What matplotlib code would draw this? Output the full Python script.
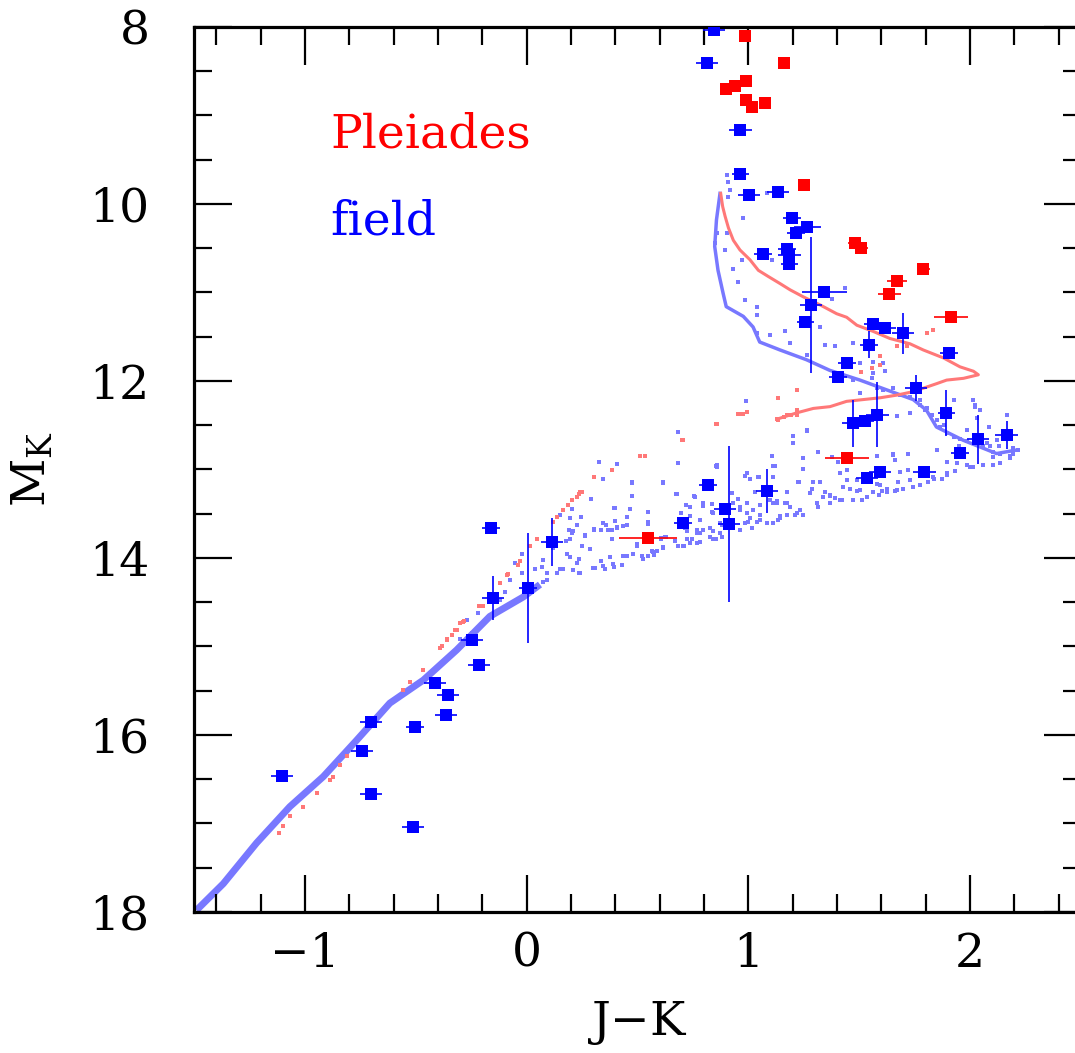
import numpy as np
import matplotlib
matplotlib.use("Agg")
import matplotlib.pyplot as plt
from matplotlib.ticker import MultipleLocator

# big symbols: field dwarfs (blue) and Pleiades members (red)
field_jk = [0.846, 0.815, 0.964, 0.964, 1.004, 1.135, 1.195, 1.266, 1.216, 1.067,
            1.175, 1.185, 1.185, 1.343, 1.284, 1.257, 1.563, 1.615, 1.696, 1.545,
            1.906, 1.446, 1.405, 1.754, 1.893, 1.582, 1.526, 1.473, 2.034, 2.164,
            1.954, 1.594, 1.535, 1.794, 0.818, 1.084, 0.894, 0.914, 0.706, -0.160,
            0.116, 0.007, -0.152, -0.248, -0.214, -0.414, -0.354, -0.364, -0.702, -0.504,
            -0.744, -1.102, -0.702, -0.513]
field_mk = [8.03, 8.41, 9.16, 9.66, 9.90, 9.87, 10.16, 10.26, 10.33, 10.57,
            10.51, 10.58, 10.68, 11.00, 11.14, 11.33, 11.36, 11.40, 11.46, 11.59,
            11.68, 11.80, 11.96, 12.08, 12.36, 12.38, 12.45, 12.48, 12.66, 12.61,
            12.81, 13.03, 13.10, 13.03, 13.18, 13.24, 13.45, 13.62, 13.60, 13.66,
            13.82, 14.34, 14.45, 14.93, 15.21, 15.41, 15.55, 15.77, 15.85, 15.91,
            16.18, 16.46, 16.67, 17.04]
field_mk_err = [0.05, 0.05, 0.06, 0.05, 0.05, 0.05, 0.05, 0.05, 0.05, 0.05,
                0.05, 0.05, 0.05, 0.06, 0.77, 0.05, 0.05, 0.05, 0.23, 0.15,
                0.05, 0.05, 0.05, 0.15, 0.26, 0.37, 0.05, 0.27, 0.28, 0.16,
                0.05, 0.05, 0.05, 0.05, 0.05, 0.25, 0.05, 0.88, 0.05, 0.05,
                0.27, 0.62, 0.25, 0.05, 0.06, 0.05, 0.05, 0.05, 0.05, 0.05,
                0.05, 0.05, 0.05, 0.05]
field_jk_err = [0.05, 0.05, 0.05, 0.04, 0.05, 0.05, 0.04, 0.06, 0.04, 0.04,
                0.04, 0.05, 0.04, 0.10, 0.05, 0.04, 0.04, 0.05, 0.05, 0.04,
                0.04, 0.04, 0.04, 0.05, 0.04, 0.05, 0.04, 0.05, 0.05, 0.05,
                0.04, 0.05, 0.05, 0.05, 0.04, 0.05, 0.05, 0.05, 0.04, 0.04,
                0.05, 0.04, 0.05, 0.05, 0.05, 0.05, 0.05, 0.05, 0.05, 0.04,
                0.05, 0.05, 0.05, 0.05]

pleiades_jk = [0.985, 1.162, 0.990, 0.900, 0.940, 0.987, 1.017, 1.075, 1.249,
               1.480, 1.508, 1.789, 1.669, 1.636, 1.914, 1.446, 0.546]
pleiades_mk = [8.10, 8.41, 8.61, 8.70, 8.67, 8.82, 8.91, 8.86, 9.79,
               10.44, 10.50, 10.73, 10.87, 11.02, 11.28, 12.87, 13.77]
pleiades_jk_err = [0.02, 0.02, 0.02, 0.02, 0.02, 0.02, 0.02, 0.02, 0.02,
                   0.03, 0.03, 0.03, 0.045, 0.05, 0.075, 0.10, 0.13]

# model sequences (dense parts, drawn as bands)
blue_diag_jk = [-1.489, -1.368, -1.218, -1.068, -0.917, -0.767, -0.617, -0.466, -0.316,
                -0.166, -0.015, 0.060]
blue_diag_mk = [17.98, 17.68, 17.22, 16.81, 16.47, 16.06, 15.64, 15.38, 15.04,
                14.66, 14.44, 14.30]

blue_upper_jk = [0.872, 0.856, 0.848, 0.863, 0.886, 0.900, 0.977, 1.021, 1.051, 1.143,
                 1.262, 1.367, 1.503, 1.623, 1.743, 1.803, 1.848, 1.969, 2.119, 2.210]
blue_upper_mk = [9.88, 10.18, 10.48, 10.75, 11.01, 11.16, 11.27, 11.39, 11.56, 11.65,
                 11.76, 11.88, 11.99, 12.10, 12.21, 12.33, 12.52, 12.67, 12.82, 12.78]

red_arc_jk = [0.875, 0.884, 0.895, 0.910, 0.932, 0.962, 1.007, 1.045, 1.090, 1.143,
              1.188, 1.248, 1.323, 1.398, 1.443, 1.489, 1.563, 1.638, 1.729, 1.789,
              1.880, 1.954, 2.015, 2.037, 1.970, 1.894, 1.849, 1.744, 1.669, 1.594,
              1.518, 1.443, 1.368, 1.293, 1.218, 1.143]
red_arc_mk = [9.88, 10.03, 10.14, 10.27, 10.41, 10.52, 10.63, 10.75, 10.82, 10.90,
              10.97, 11.05, 11.14, 11.24, 11.28, 11.37, 11.44, 11.52, 11.58, 11.65,
              11.74, 11.84, 11.89, 11.93, 11.97, 11.99, 12.03, 12.12, 12.16, 12.19,
              12.21, 12.23, 12.29, 12.31, 12.36, 12.42]

# model sequences (sparse parts, individual dots)
blue_dots_jk = [0.328, 0.406, 0.346, 0.476, 0.616, 0.684, 0.684, 0.476, 0.289, 0.395,
                0.466, 0.246, 0.225, 0.305, 0.360, 0.406, 0.451, 0.546, 0.549, 0.265,
                0.386, 0.496, 0.604, 0.627, 0.616, 0.674, 0.756, 0.797, 0.835, 0.855,
                0.986, 1.047, 1.107, 1.119, 1.031, 1.053, 1.129, 1.174, 1.226, 1.203,
                0.737, 0.714, 0.782, 0.827, 0.873, 0.963, 1.008, 1.084, 1.144, 1.211,
                0.873, 0.842, 0.737, 0.707, 0.571, 0.519, 0.436, 0.391, 0.346, 0.301,
                0.241, 0.225, 0.180, 0.195, 0.210, 0.248, 0.120, 0.165, 0.135, 0.090,
                0.075, 0.045, 0.037, -0.022, -0.022, -0.053, -0.075, -0.098, -0.120, -0.143,
                -0.090, -0.180, -0.218, -0.248, -0.270, -0.300, 0.990,
                1.037, 1.097, 1.165, 1.188, 1.263, 1.323, 1.346, 1.391, 1.473, 1.503,
                1.563, 1.608, 1.616, 1.563, 1.473, 1.556, 1.608, 1.653, 1.683, 1.729,
                1.774, 1.804, 1.849, 1.864, 1.925, 1.985, 2.015, 2.022, 2.090, 2.135,
                2.180, 2.218, 2.105, 1.999, 1.940, 1.894, 1.834, 1.774, 1.729, 1.669,
                1.623, 1.594, 1.653, 1.578, 1.443, 1.503, 1.473, 1.413, 1.368, 1.308,
                1.278, 1.218, 1.173, 1.143, 1.112, 1.052, 0.992, 0.962, 0.872, 0.827,
                0.767, 0.722, 0.737, 0.782, 0.842, 0.857, 0.992, 1.112, 1.323, 1.413,
                1.263, 1.503, 1.578, 1.669, 1.729, 1.797, 1.925,
                0.902, 0.910, 0.910, 0.917, 0.977, 1.082, 0.902, 0.849, 0.857, 0.894,
                0.932, 0.955, 0.985, 1.037, 0.970, 1.105, 1.436, 1.376, 1.037,
                # denser part of the broad band, 0.1 < J-K < 1.2
                0.206, 0.197, 0.150, 0.192, 0.203, 0.177, 0.248, 0.286, 0.195, 0.237,
                0.210, 0.237, 0.150, 0.090, 0.068, 0.075, 0.305, 0.346, 0.386, 0.368,
                0.406, 0.436, 0.454, 0.466, 0.398, 0.477, 0.477, 0.549, 0.549, 0.496,
                0.478, 0.454, 0.428, 0.394, 0.353, 0.335, 0.307, 0.376, 0.526, 0.549,
                0.567, 0.586, 0.576, 0.617, 0.604, 0.625, 0.684, 0.709, 0.744, 0.767,
                0.782, 0.827, 0.852, 0.879, 0.842, 0.879, 0.797, 0.767, 0.722, 0.669,
                0.698, 0.677, 0.757, 0.718, 0.797, 0.834, 0.857, 0.684, 0.617, 0.962,
                0.985, 1.007, 0.992, 1.022, 1.052, 1.045, 1.105, 1.112, 1.097, 1.127,
                1.135, 1.112, 1.082, 1.037, 1.000, 1.015, 0.985, 0.932, 0.955, 0.925,
                0.398, 0.335, 0.383, 0.263,
                # broad band, 1.2 < J-K < 2.2
                1.203, 1.266, 1.316, 1.376, 1.406, 1.248, 1.245, 1.225, 1.293, 1.286,
                1.346, 1.368, 1.391, 1.421, 1.428, 1.458, 1.488, 1.511, 1.534, 1.587,
                1.602, 1.624, 1.662, 1.699, 1.744, 1.774, 1.812, 1.835, 1.872, 1.895,
                1.895, 1.932, 1.985, 2.015, 2.060, 2.105, 2.135, 2.180, 2.195, 2.218,
                2.105, 2.128, 2.075, 2.060, 2.120, 2.165, 2.195, 2.083, 1.985, 1.955,
                1.948, 1.895, 1.850, 1.880, 1.850, 1.827, 1.805, 1.774, 2.022, 2.045,
                2.165, 2.030, 1.654, 1.662, 1.721, 1.721, 1.684, 1.676, 1.579, 1.549,
                1.564, 1.488, 1.443, 1.173, 1.165, 1.188, 1.233, 1.173, 1.248, 1.316,
                1.338, 1.368]
blue_dots_mk = [12.91, 12.94, 13.11, 13.14, 13.14, 12.58, 12.93, 13.30, 13.33, 13.43,
                13.45, 13.54, 13.63, 13.67, 13.63, 13.66, 13.63, 13.48, 13.59, 13.74,
                13.78, 13.84, 13.77, 13.76, 13.88, 13.28, 13.30, 13.41, 13.39, 12.96,
                13.07, 13.09, 12.85, 12.96, 13.25, 13.51, 13.38, 13.38, 13.14, 12.62,
                13.53, 13.66, 13.72, 13.66, 13.72, 13.42, 13.55, 13.61, 13.55, 13.51,
                13.61, 13.79, 13.83, 13.87, 13.93, 13.98, 13.98, 14.07, 14.09, 14.11,
                14.17, 14.06, 13.95, 13.79, 13.70, 13.87, 13.89, 14.12, 14.17, 14.17,
                14.27, 14.32, 14.12, 13.95, 14.17, 14.06, 14.25, 14.38, 14.47, 14.62,
                14.55, 14.70, 14.62, 14.85, 14.70, 14.92, 12.23,
                11.46, 11.48, 11.44, 11.57, 11.71, 11.39, 11.59, 11.61, 11.57, 11.80,
                11.78, 11.80, 11.89, 11.91, 11.99, 11.97, 12.10, 12.08, 12.16, 12.18,
                12.21, 12.31, 12.44, 12.52, 12.63, 12.55, 12.21, 12.29, 12.74, 12.82,
                12.85, 12.78, 12.86, 12.97, 12.93, 13.04, 13.08, 13.17, 13.12, 13.23,
                13.25, 13.17, 12.83, 12.85, 13.12, 13.23, 13.34, 13.34, 13.30, 13.38,
                13.27, 13.49, 13.38, 13.53, 13.38, 13.57, 13.49, 13.68, 13.72, 13.76,
                13.72, 13.79, 13.42, 13.57, 13.49, 12.97, 13.04, 13.08, 13.14, 13.04,
                12.55, 12.14, 12.08, 12.40, 12.36, 12.33, 12.21,
                9.67, 9.75, 9.92, 9.84, 10.16, 9.88, 10.33, 10.44, 10.33, 10.52,
                10.73, 10.88, 11.08, 11.16, 10.63, 10.63, 10.95, 11.07, 11.25,
                13.45, 13.55, 13.51, 13.68, 13.72, 13.81, 13.87, 13.90, 13.99, 14.01,
                14.14, 14.17, 14.12, 14.25, 14.10, 14.02, 13.68, 13.61, 13.79, 13.68,
                13.65, 13.64, 13.54, 13.45, 13.43, 13.15, 13.30, 13.59, 13.62, 13.87,
                13.95, 13.98, 14.08, 14.10, 14.12, 14.03, 14.11, 13.99, 14.01, 13.98,
                13.92, 13.92, 13.97, 13.89, 13.78, 13.76, 13.87, 13.87, 13.79, 13.83,
                13.82, 13.76, 13.78, 13.76, 13.70, 13.63, 13.68, 13.68, 13.70, 13.81,
                13.49, 13.28, 13.31, 13.40, 13.38, 13.48, 12.95, 12.93, 13.15, 13.46,
                13.07, 13.11, 13.38, 13.46, 13.40, 13.08, 12.85, 12.96, 13.34, 13.36,
                13.57, 13.61, 13.61, 13.59, 13.59, 13.66, 13.61, 13.38, 13.33, 13.27,
                13.58, 13.68, 13.68, 13.75,
                12.70, 12.57, 12.80, 12.86, 12.92, 12.87, 12.99, 13.14, 13.14, 13.22,
                13.25, 13.29, 13.32, 13.34, 13.20, 13.22, 13.24, 13.34, 13.31, 13.29,
                13.24, 13.22, 13.24, 13.22, 13.20, 13.18, 13.14, 13.11, 13.11, 13.06,
                12.91, 13.02, 12.95, 12.97, 12.95, 12.95, 12.93, 12.87, 12.82, 12.78,
                12.80, 12.74, 12.70, 12.74, 12.67, 12.39, 12.76, 12.52, 12.68, 12.65,
                12.74, 12.59, 12.78, 12.50, 12.44, 12.39, 12.31, 12.27, 12.27, 12.33,
                12.57, 12.42, 12.84, 12.89, 12.82, 13.01, 13.03, 13.14, 13.16, 13.10,
                13.25, 13.12, 13.01, 13.25, 13.38, 13.42, 13.46, 13.51, 13.51, 13.42,
                13.31, 13.38]

red_dots_jk = [0.699, 0.512, 0.534, 0.386, 0.305, 0.241, 0.225, 0.206, 0.188, 0.165,
               0.139, 0.120, 0.048, 0.015, -0.030, -0.037, -0.085, -0.120, -0.215, -0.281,
               -0.300, -0.323, -0.338, -0.360, -0.383, 0.854, 0.955, 0.977, 0.995, 1.130,
               1.160, 1.190, 1.220, -0.090, -0.196, -0.286, -0.316, -0.361, -0.392, -0.467,
               -0.527, -0.557, -0.812, -0.842, -0.872, -0.887, -0.947, -1.007, -1.067, -1.097,
               -1.119, 1.804, 1.834, 1.669, 1.714, 1.593, 1.556, 1.510, 1.594, 1.218,
               1.135, 0.992, 0.970, 0.857, 0.707, 1.173, 1.135, 1.218, 0.248, 0.237]
red_dots_mk = [12.67, 12.85, 12.85, 13.01, 13.08, 13.26, 13.31, 13.34, 13.40, 13.46,
               13.54, 13.59, 13.78, 13.87, 14.03, 14.08, 14.18, 14.28, 14.54, 14.71,
               14.74, 14.81, 14.87, 14.92, 15.00, 12.49, 12.37, 12.37, 12.35, 12.43,
               12.41, 12.39, 12.38, 14.19, 14.54, 14.72, 14.81, 14.93, 15.02, 15.27,
               15.40, 15.49, 16.24, 16.34, 16.47, 16.51, 16.66, 16.81, 16.92, 17.03,
               17.11, 11.46, 11.42, 11.61, 11.61, 11.82, 11.85, 11.90, 11.72, 12.10,
               12.19, 12.35, 12.37, 12.49, 12.67, 12.38, 12.44, 12.33, 13.26, 13.28]

light_blue = '#7878ff'
light_red = '#ff7878'

plt.rcParams['font.family'] = ['DejaVu Serif']
plt.rcParams['mathtext.fontset'] = 'dejavuserif'

fig = plt.figure(figsize=(10.75, 10.53), dpi=100)
ax = fig.add_axes([0.1805, 0.1339, 0.8251, 0.8405])

# model sequences
ax.plot(blue_diag_jk, blue_diag_mk, color=light_blue, lw=5, solid_capstyle='butt',
        solid_joinstyle='round', zorder=1)
ax.plot(blue_upper_jk, blue_upper_mk, color=light_blue, lw=2.5, zorder=1)
ax.plot(blue_dots_jk, blue_dots_mk, 's', color=light_blue, ms=2.8, mew=0, zorder=1)
ax.plot(red_arc_jk, red_arc_mk, color=light_red, lw=2.2, zorder=2)
ax.plot(red_dots_jk, red_dots_mk, 's', color=light_red, ms=2.8, mew=0, zorder=2)

# observed stars
ax.errorbar(pleiades_jk, pleiades_mk, xerr=pleiades_jk_err, fmt='s', color='red',
            ms=9, mew=0, elinewidth=1.2, capsize=0, zorder=4)
ax.errorbar(field_jk, field_mk, xerr=field_jk_err, yerr=field_mk_err, fmt='s', color='blue',
            ms=9, mew=0, elinewidth=1.2, capsize=0, zorder=5)

ax.text(-0.887, 9.22, 'Pleiades', color='red', fontsize=34, va='center', ha='left')
ax.text(-0.887, 10.20, 'field', color='blue', fontsize=34, va='center', ha='left')

ax.set_xlim(-1.5, 2.5)
ax.set_ylim(18, 8)
ax.xaxis.set_major_locator(MultipleLocator(1))
ax.xaxis.set_minor_locator(MultipleLocator(0.2))
ax.yaxis.set_major_locator(MultipleLocator(2))
ax.yaxis.set_minor_locator(MultipleLocator(0.5))
ax.tick_params(which='both', direction='in', top=True, right=True, width=1.6,
               labelsize=34, colors='black')
ax.tick_params(which='major', length=27)
ax.tick_params(which='minor', length=13)
ax.tick_params(axis='x', which='major', pad=14)
ax.tick_params(axis='y', which='major', pad=32)
for s in ax.spines.values():
    s.set_linewidth(2.3)

ax.set_xlabel('J$-$K', fontsize=34, labelpad=16)
ax.set_ylabel('M$_{\\rm K}$', fontsize=34, labelpad=24)

fig.savefig('out.png', dpi=100)
